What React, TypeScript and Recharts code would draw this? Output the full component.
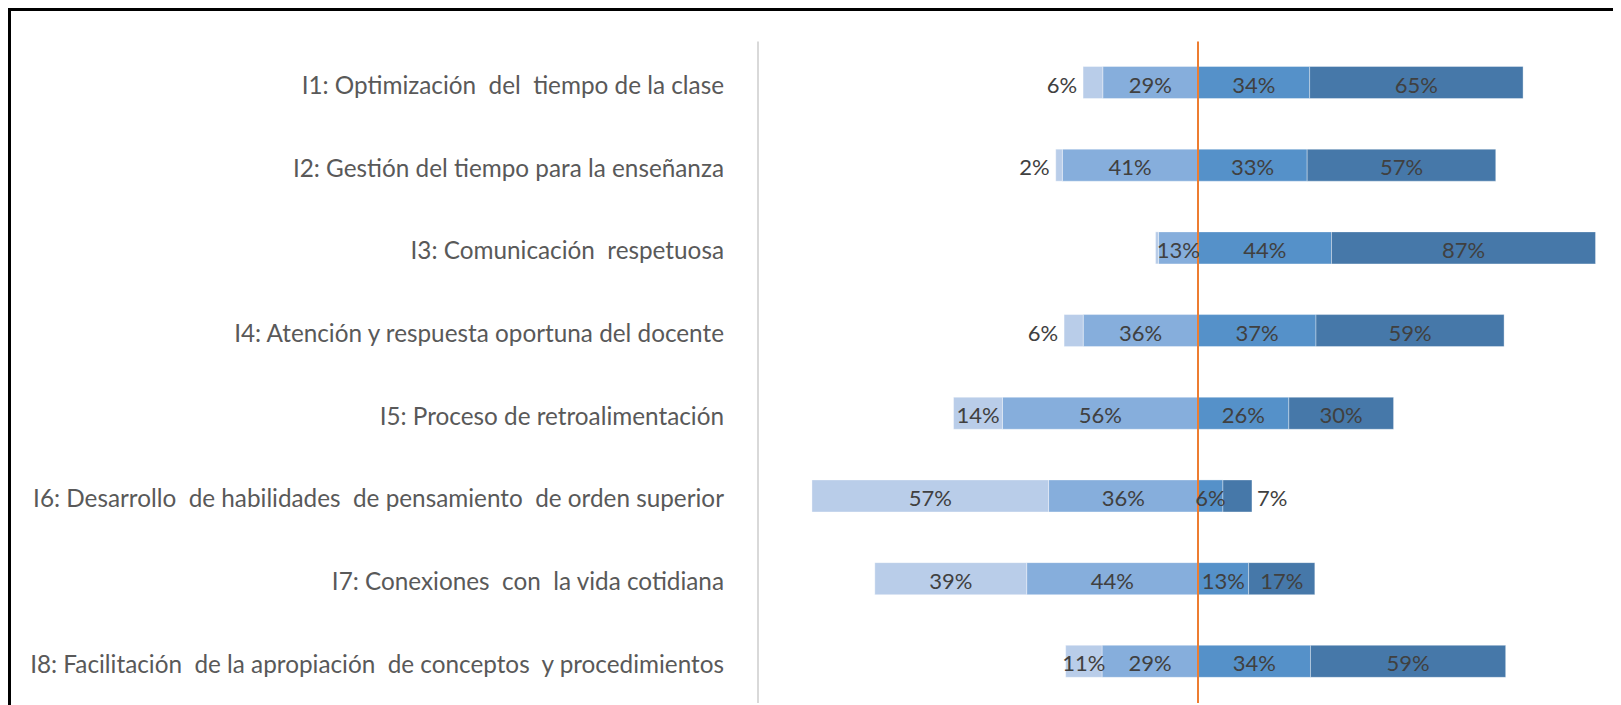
import React from "react";
import { BarChart, Bar, XAxis, YAxis, ReferenceLine, LabelList } from "recharts";

const categories = [
  "I1: Optimización  del  tiempo de la clase",
  "I2: Gestión del tiempo para la enseñanza",
  "I3: Comunicación  respetuosa",
  "I4: Atención y respuesta oportuna del docente",
  "I5: Proceso de retroalimentación",
  "I6: Desarrollo  de habilidades  de pensamiento  de orden superior",
  "I7: Conexiones  con  la vida cotidiana",
  "I8: Facilitación  de la apropiación  de conceptos  y procedimientos",
];

// shown percentages per level
const muyBajo = [6, 2, 1, 6, 14, 57, 39, 11];
const bajo = [29, 41, 13, 36, 56, 36, 44, 29];
const alto = [34, 33, 44, 37, 26, 6, 13, 34];
const muyAlto = [65, 57, 87, 59, 30, 7, 17, 59];

// label placement per bar: c = centre, l = outside left, r = outside right, n = hidden
const muyBajoPos = ["l", "l", "n", "l", "c", "c", "c", "c"];
const bajoPos = ["c", "c", "c", "c", "c", "c", "c", "c"];
const altoPos = ["c", "c", "c", "c", "c", "c", "c", "c"];
const muyAltoPos = ["c", "c", "c", "c", "c", "r", "c", "c"];

const data = categories.map((name, i) => {
  const total = muyBajo[i] + bajo[i] + alto[i] + muyAlto[i];
  return {
    name,
    muyBajo: (-muyBajo[i] / total) * 100,
    bajo: (-bajo[i] / total) * 100,
    alto: (alto[i] / total) * 100,
    muyAlto: (muyAlto[i] / total) * 100,
  };
});

const FONT = "Lato, 'Open Sans', sans-serif";

const makeLabel = (values: number[], pos: string[]) => (props: any) => {
  const { x, y, width, height, index } = props;
  const p = pos[index];
  if (p === "n") return null;
  const x0 = Math.min(x, x + width);
  const x1 = Math.max(x, x + width);
  const cy = y + height / 2;
  let tx = (x0 + x1) / 2;
  let anchor: "middle" | "end" | "start" = "middle";
  if (p === "l") {
    tx = x0 - 6;
    anchor = "end";
  } else if (p === "r") {
    tx = x1 + 5;
    anchor = "start";
  }
  return (
    <text
      x={tx}
      y={cy}
      dy={10}
      textAnchor={anchor}
      fill="#404040"
      fontSize={22}
      fontFamily={FONT}
    >
      {`${values[index]}%`}
    </text>
  );
};

const CategoryTick = (props: any) => {
  const { x, y, payload } = props;
  return (
    <text
      x={x}
      y={y}
      dy={11}
      textAnchor="end"
      fill="#595959"
      fontSize={24.3}
      fontFamily={FONT}
      style={{ whiteSpace: "pre" }}
    >
      {payload.value}
    </text>
  );
};

const barStroke = "rgba(255,255,255,0.35)";

export default function App() {
  return (
    <div>
      <style>{`html,body{overflow:hidden;}`}</style>
      <div
        style={{
          width: 1700,
          height: 760,
          borderTop: "3px solid #000",
          borderLeft: "3px solid #000",
          background: "#fff",
          overflow: "hidden",
        }}
      >
        <BarChart
          width={1637}
          height={702}
          data={data}
          layout="vertical"
          stackOffset="sign"
          margin={{ top: 30.5, right: 10, bottom: 10, left: 0 }}
        >
          <XAxis type="number" domain={[-100, 100]} hide allowDataOverflow />
          <YAxis
            type="category"
            dataKey="name"
            width={747}
            axisLine={{ stroke: "#D9D9D9", strokeWidth: 2 }}
            tickLine={false}
            tickSize={0}
            tickMargin={34}
            tick={<CategoryTick />}
            interval={0}
          />
          <Bar dataKey="bajo" stackId="s" fill="#86AEDC" stroke={barStroke} barSize={32} isAnimationActive={false}>
            <LabelList content={makeLabel(bajo, bajoPos)} />
          </Bar>
          <Bar dataKey="muyBajo" stackId="s" fill="#B9CDE9" stroke={barStroke} barSize={32} isAnimationActive={false}>
            <LabelList content={makeLabel(muyBajo, muyBajoPos)} />
          </Bar>
          <Bar dataKey="alto" stackId="s" fill="#5591C9" stroke={barStroke} barSize={32} isAnimationActive={false}>
            <LabelList content={makeLabel(alto, altoPos)} />
          </Bar>
          <Bar dataKey="muyAlto" stackId="s" fill="#4678A9" stroke={barStroke} barSize={32} isAnimationActive={false}>
            <LabelList content={makeLabel(muyAlto, muyAltoPos)} />
          </Bar>
          <ReferenceLine x={0} stroke="#ED7D31" strokeWidth={2} ifOverflow="extendDomain" />
        </BarChart>
      </div>
    </div>
  );
}
